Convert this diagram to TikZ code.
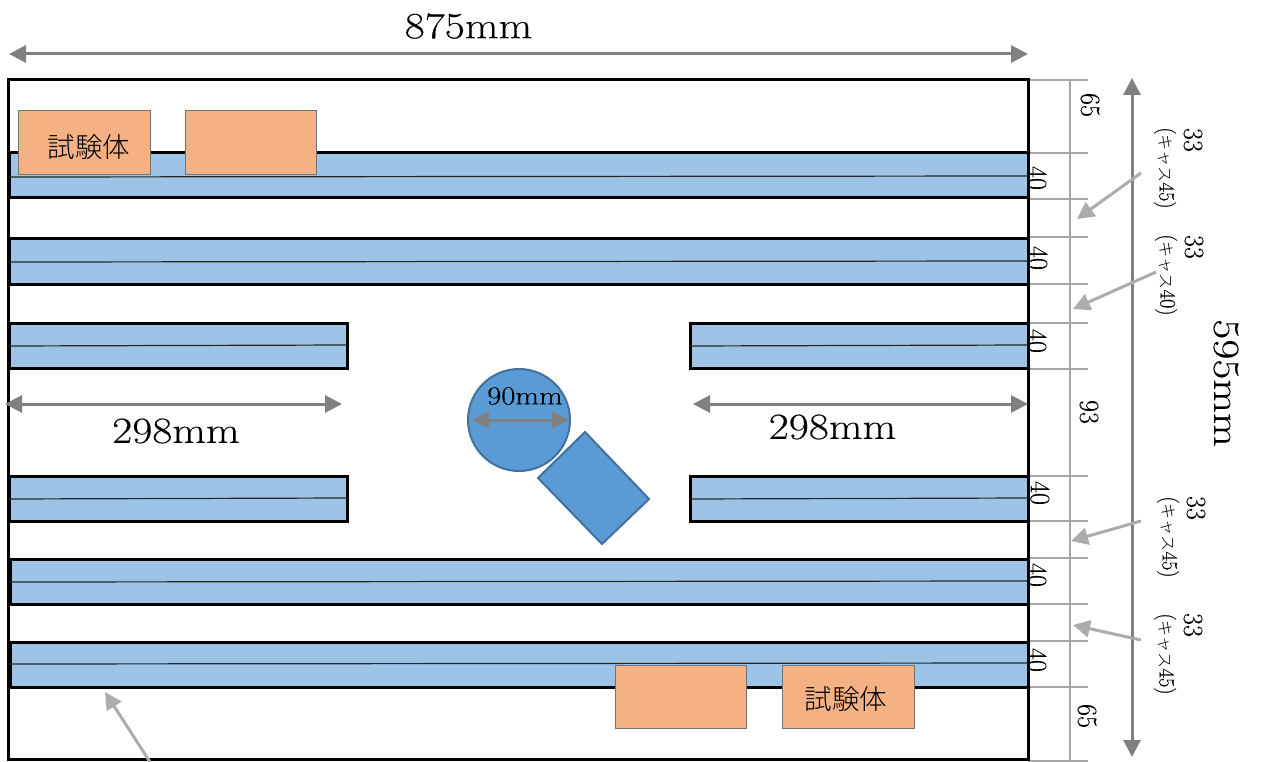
\documentclass[tikz,border=0pt]{standalone}
\usepackage{fontspec}
\newfontfamily\jp{Noto Sans CJK JP Light}
\newfontfamily\widefont{Latin Modern Roman}[FakeStretch=1.18,FakeBold=0.25]
\newfontfamily\numfont{Latin Modern Roman}[FakeStretch=0.93,FakeBold=0.25]
\usetikzlibrary{arrows.meta}
\definecolor{stripblue}{HTML}{9DC3E6}
\definecolor{orangebox}{HTML}{F4B183}
\definecolor{midblue}{HTML}{5B9BD5}
\definecolor{midedge}{HTML}{41719C}
\definecolor{dimdark}{HTML}{808080}
\definecolor{dimlight}{HTML}{AEABAB}
\definecolor{tickgray}{HTML}{A6A6A6}
\tikzset{
  x=1pt,y=-1pt,
  strip/.style={draw=black,fill=stripblue,line width=3pt},
  midline/.style={draw=black!85,line width=1.2pt},
  sample/.style={draw=black!55,fill=orangebox,line width=1pt},
  bluepart/.style={draw=midedge,fill=midblue,line width=2pt},
  tick/.style={draw=tickgray,line width=1.2pt},
  dimarrow/.style={draw=dimdark,line width=3pt,{Triangle[length=17pt,width=17pt]}-{Triangle[length=17pt,width=17pt]}},
  callout/.style={draw=dimlight,line width=3pt,-{Triangle[length=17pt,width=17pt]}},
  big/.style={font=\widefont\fontsize{37}{37}\selectfont,inner sep=0pt},
  mid/.style={font=\widefont\fontsize{26}{26}\selectfont,inner sep=0pt},
  rot/.style={rotate=-90,inner sep=0pt},
  small/.style={rot,font=\numfont\fontsize{28}{28}\selectfont},
  tiny/.style={rot,font=\numfont\fontsize{22}{22}\selectfont},
  jtext/.style={font=\jp\fontsize{27.5}{27.5}\selectfont,inner sep=0pt},
}
\newcommand{\stripbar}[4]{%
  \draw[strip] (#1,#3) rectangle (#2,#3+45);
  \draw[midline] (#1,#4) -- (#2,#4-1);}
\newcommand{\cast}{{\jp\fontsize{16}{16}\selectfont キャス}}
\begin{document}
\begin{tikzpicture}
\useasboundingbox (0,0) rectangle (1261,762);
\fill[white] (0,0) rectangle (1261,762);
% ticks
\foreach \yy in {80,153,199,237,284,323,369,476,521,558,604,641,687,761}
  \draw[tick] (1028,\yy) -- (1088,\yy);
\draw[tick] (1070,80) -- (1070,761);
% frame
\draw[draw=black,line width=3pt] (8,80) rectangle (1028,759);
% strips
\stripbar{9}{1028}{153}{177}
\stripbar{9}{1028}{239}{262}
\stripbar{9}{347}{323}{346}
\stripbar{690}{1028}{323}{346}
\stripbar{9}{347}{476}{499}
\stripbar{690}{1028}{476}{499}
\stripbar{10}{1028}{559}{582}
\stripbar{10}{1028}{642}{664}
% samples
\draw[sample] (18.5,111) rectangle (150,175);
\draw[sample] (185,111) rectangle (316,175);
\draw[sample] (615,665) rectangle (746,728);
\draw[sample] (782.5,665) rectangle (914,728);
\node[jtext] (s1) at (89,147) {試験体};
\node[jtext] (s2) at (846,699) {試験体};
% centre parts
\draw[bluepart] (519,420) circle (51);
\draw[bluepart] (585,432) -- (649,499) -- (602,544) -- (538,478) -- cycle;
% dimension end points
\coordinate (a1) at (9,54); \coordinate (a2) at (1028,54);
\coordinate (b1) at (1132,78); \coordinate (b2) at (1132,757);
\coordinate (c1) at (5,404); \coordinate (c2) at (342,404);
\coordinate (d1) at (693,404); \coordinate (d2) at (1028,404);
\coordinate (e1) at (472,420); \coordinate (e2) at (569,420);
\draw[dimarrow] (a1) -- (a2);
\draw[dimarrow] (b1) -- (b2);
\draw[dimarrow] (c1) -- (c2);
\draw[dimarrow] (d1) -- (d2);
\draw[dimarrow] (e1) -- (e2);
% callouts
\coordinate (f1) at (1141,173); \coordinate (f2) at (1077,219);
\coordinate (g1) at (1156,272); \coordinate (g2) at (1073,309);
\coordinate (h1) at (1141,521); \coordinate (h2) at (1071,541);
\coordinate (i1) at (1141,640); \coordinate (i2) at (1073,625);
\coordinate (j1) at (150,762); \coordinate (j2) at (105,692);
\draw[callout] (f1) -- (f2);
\draw[callout] (g1) -- (g2);
\draw[callout] (h1) -- (h2);
\draw[callout] (i1) -- (i2);
\draw[callout] (j1) -- (j2);
% labels
\node[big] (t875) at (468.5,26) {875mm};
\node[big] (t298a) at (176,431) {298mm};
\node[big] (t298b) at (832.5,427) {298mm};
\node[big,rot] (t595) at (1226,383) {595mm};
\node[mid] (t90) at (525,396) {90mm};
\node[small] (n65a) at (1090,105) {65};
\node[small] (n65b) at (1087,716) {65};
\node[small] (n93) at (1089,412) {93};
\node[small] (n40a) at (1037,178) {40};
\node[small] (n40b) at (1038,258) {40};
\node[small] (n40c) at (1037,341) {40};
\node[small] (n40d) at (1040,493) {40};
\node[small] (n40e) at (1037,575) {40};
\node[small] (n40f) at (1037,660) {40};
\node[small] (n33a) at (1193,140) {33};
\node[small] (n33b) at (1194,247) {33};
\node[small] (n33c) at (1196,508) {33};
\node[small] (n33d) at (1193,625) {33};
\node[tiny] (c1t) at (1165,168) {(\cast 45)};
\node[tiny] (c2t) at (1166,275) {(\cast 40)};
\node[tiny] (c3t) at (1168,537) {(\cast 45)};
\node[tiny] (c4t) at (1165,654) {(\cast 45)};
\end{tikzpicture}
\end{document}
